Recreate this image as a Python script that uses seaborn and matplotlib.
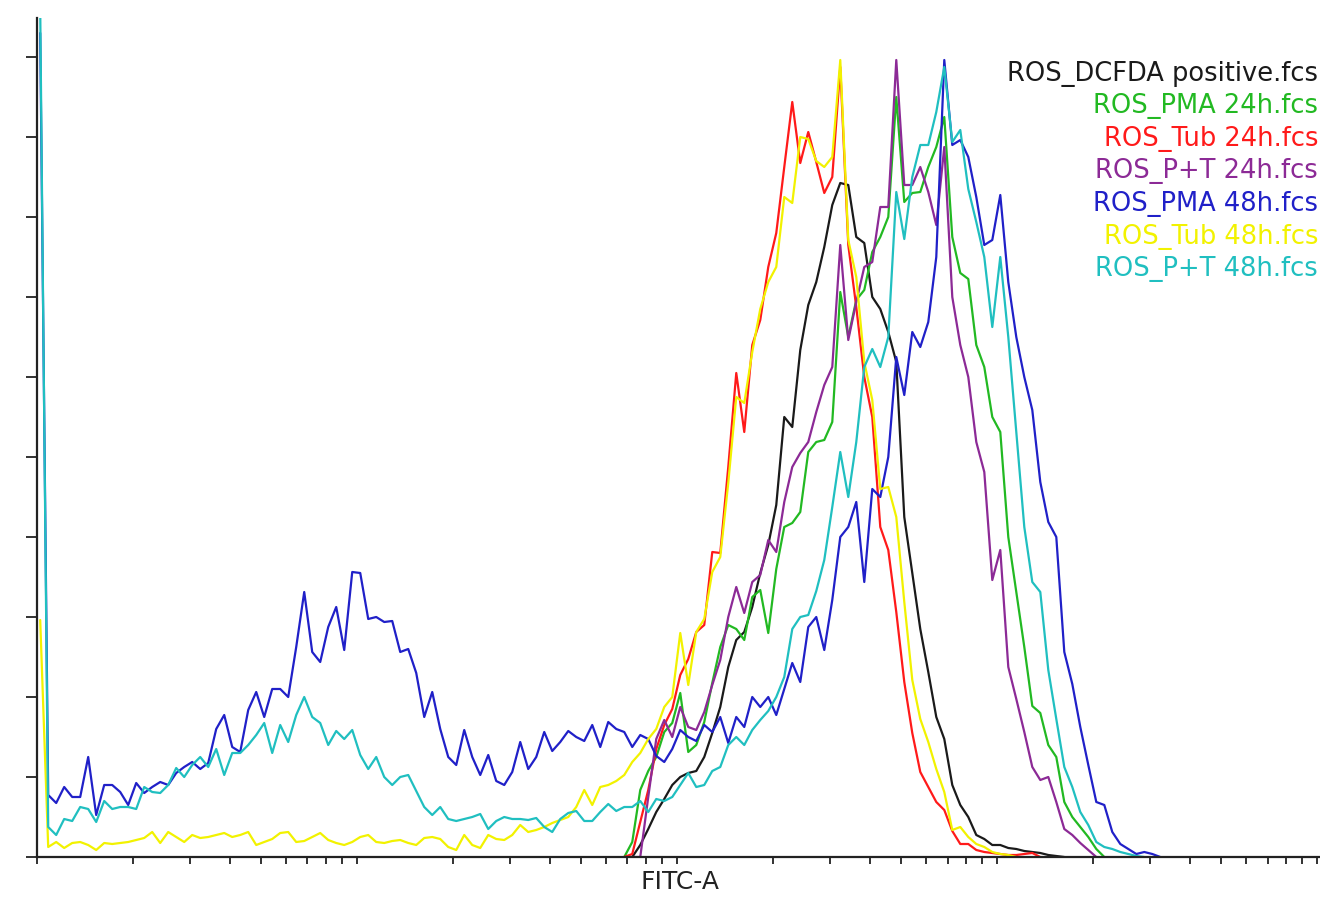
import numpy as np
import pandas as pd
import matplotlib
matplotlib.use("Agg")
import matplotlib.pyplot as plt
import seaborn as sns
from matplotlib.ticker import LogLocator, MultipleLocator, NullFormatter

# スタイル
sns.set_style("ticks")
plt.rcParams['font.family'] = ['DejaVu Sans']

# 対数チャンネル (1 チャンネル = 0.025 デケード)
channel_step = 0.025
channel_offset = 0.01
fitc = 10 ** (channel_offset + channel_step * np.arange(150))

samples = ["ROS_DCFDA positive.fcs", "ROS_PMA 24h.fcs", "ROS_Tub 24h.fcs",
           "ROS_P+T 24h.fcs", "ROS_PMA 48h.fcs", "ROS_Tub 48h.fcs",
           "ROS_P+T 48h.fcs"]
colors = ["#1a1a1a", "#22b922", "#ff1a1a", "#8c2a96", "#2020c8", "#f2f200", "#20bfc0"]

# 各ヒストグラムのカウント (開始チャンネル, 値)
dcfda_start = 73
dcfda = [0, 0, 12, 28, 45, 58, 72, 80, 84, 86,
         100, 124, 150, 190, 217, 225, 250, 284, 312, 352,
         440, 430, 507, 552, 575, 610, 652, 674, 672, 620,
         614, 560, 548, 525, 495, 340, 284, 228, 185, 140,
         118, 72, 52, 40, 22, 18, 12, 12, 9, 8,
         6, 5, 4, 2, 1, 0]

pma24_start = 73
pma24 = [0, 15, 67, 86, 100, 125, 134, 164, 105, 112,
         135, 174, 210, 232, 228, 217, 260, 267, 224, 288,
         330, 334, 345, 405, 415, 417, 435, 565, 520, 557,
         567, 605, 620, 640, 760, 655, 664, 665, 690, 710,
         740, 620, 584, 578, 512, 490, 440, 425, 320, 265,
         210, 151, 144, 112, 100, 55, 40, 30, 20, 8,
         0]

tub24_start = 73
tub24 = [0, 3, 35, 67, 108, 132, 148, 182, 198, 225,
         232, 305, 304, 390, 484, 425, 512, 537, 590, 624,
         690, 755, 694, 725, 695, 664, 680, 790, 612, 550,
         480, 440, 330, 307, 245, 175, 124, 85, 70, 55,
         47, 26, 13, 13, 7, 5, 4, 3, 2, 2,
         3, 4, 0]

pt24_start = 74
pt24 = [0, 0, 60, 118, 137, 120, 150, 130, 127, 145,
        172, 197, 240, 270, 244, 275, 282, 317, 305, 355,
        390, 404, 415, 445, 472, 490, 612, 517, 555, 590,
        595, 650, 650, 797, 672, 672, 690, 665, 632, 710,
        560, 512, 480, 415, 385, 277, 307, 190, 158, 125,
        90, 77, 80, 55, 28, 22, 14, 7, 0]

pma48_start = 0
pma48 = [824, 62, 54, 70, 60, 60, 100, 42, 72, 72,
         65, 52, 74, 64, 70, 75, 72, 84, 90, 95,
         88, 94, 128, 142, 110, 105, 147, 165, 140, 168,
         168, 160, 210, 265, 205, 195, 230, 250, 207, 285,
         284, 238, 240, 235, 236, 205, 208, 184, 140, 165,
         128, 100, 92, 127, 100, 82, 102, 76, 72, 85,
         115, 88, 100, 125, 106, 115, 126, 120, 116, 132,
         110, 135, 128, 125, 110, 122, 118, 101, 95, 108,
         127, 120, 116, 132, 125, 140, 114, 140, 130, 160,
         150, 160, 142, 168, 194, 175, 230, 240, 207, 257,
         320, 330, 355, 275, 368, 360, 400, 500, 462, 525,
         510, 535, 600, 797, 712, 717, 700, 660, 612, 617,
         662, 575, 520, 480, 447, 375, 335, 320, 205, 173,
         130, 92, 55, 52, 25, 13, 8, 3, 5, 3,
         0]

tub48_start = 0
tub48 = [237, 10, 15, 9, 14, 15, 12, 7, 14, 13,
         14, 15, 17, 19, 25, 14, 25, 20, 15, 22,
         19, 20, 22, 24, 20, 22, 25, 12, 15, 18,
         24, 25, 15, 16, 20, 24, 17, 14, 12, 15,
         20, 22, 15, 14, 16, 17, 14, 12, 19, 20,
         18, 10, 7, 22, 12, 9, 22, 18, 17, 22,
         32, 25, 27, 30, 34, 37, 40, 50, 67, 52,
         70, 72, 76, 82, 95, 104, 118, 128, 150, 160,
         224, 172, 225, 238, 285, 300, 374, 460, 454, 505,
         548, 575, 590, 660, 654, 720, 718, 696, 690, 700,
         797, 617, 580, 495, 457, 368, 370, 340, 255, 177,
         138, 115, 88, 65, 27, 30, 20, 13, 10, 5,
         3, 2, 0]

pt48_start = 0
pt48 = [850, 30, 22, 38, 36, 50, 48, 35, 56, 48,
        50, 50, 48, 70, 65, 64, 72, 89, 80, 92,
        100, 90, 108, 82, 104, 104, 112, 122, 134, 104,
        132, 115, 142, 160, 140, 134, 112, 126, 118, 127,
        102, 88, 100, 80, 72, 80, 82, 66, 50, 42,
        50, 38, 36, 38, 40, 43, 28, 36, 40, 38,
        38, 37, 39, 30, 25, 38, 44, 46, 36, 36,
        45, 53, 46, 50, 50, 56, 45, 58, 56, 60,
        72, 84, 70, 72, 86, 90, 112, 120, 112, 127,
        137, 146, 160, 180, 228, 240, 242, 266, 297, 350,
        405, 360, 415, 490, 508, 490, 520, 665, 618, 680,
        712, 712, 745, 790, 715, 727, 668, 635, 600, 530,
        600, 520, 425, 330, 275, 265, 187, 138, 90, 70,
        45, 32, 15, 10, 8, 5, 3, 1, 0]

series = [(dcfda_start, dcfda), (pma24_start, pma24), (tub24_start, tub24),
          (pt24_start, pt24), (pma48_start, pma48), (tub48_start, tub48),
          (pt48_start, pt48)]

rows = []
for name, (start, counts) in zip(samples, series):
    for k, c in enumerate(counts):
        rows.append({"sample": name, "FITC-A": fitc[start + k], "count": c})
df = pd.DataFrame(rows)

fig = plt.figure(figsize=(13.2, 9.02), dpi=100)
ax = fig.add_axes([37 / 1320, 45 / 902, 1283 / 1320, 839 / 902])

sns.lineplot(data=df, x="FITC-A", y="count", hue="sample", hue_order=samples,
             palette=colors, estimator=None, sort=False, linewidth=1.6,
             legend=False, ax=ax)

ax.set_xscale("log")
ax.set_xlim(1, 10 ** 4.009)
ax.set_ylim(0, 839)

ax.xaxis.set_major_locator(LogLocator(base=10, numticks=10))
ax.xaxis.set_minor_locator(LogLocator(base=10, subs=np.arange(2, 10), numticks=50))
ax.xaxis.set_major_formatter(NullFormatter())
ax.xaxis.set_minor_formatter(NullFormatter())
ax.yaxis.set_major_locator(MultipleLocator(80))
ax.yaxis.set_major_formatter(NullFormatter())

ax.tick_params(axis="x", which="both", direction="out", length=5, width=1.3, color="#222222")
ax.tick_params(axis="y", which="major", direction="out", length=8, width=1.3, color="#222222")
ax.set_xlabel("")
ax.set_ylabel("")

sns.despine(ax=ax)
for side in ["left", "bottom"]:
    ax.spines[side].set_linewidth(1.6)
    ax.spines[side].set_color("#222222")

fig.text(680 / 1320, 1 - 882 / 902, "FITC-A", ha="center", va="center",
         fontsize=18, color="#222222")

legend_y = [73, 105, 138, 170, 203, 236, 268]
for name, col, yy in zip(samples, colors, legend_y):
    fig.text(1318 / 1320, 1 - (yy + 8) / 902, name, ha="right", va="baseline",
             fontsize=18.5, color=col)

fig.savefig("out.png", dpi=100)
